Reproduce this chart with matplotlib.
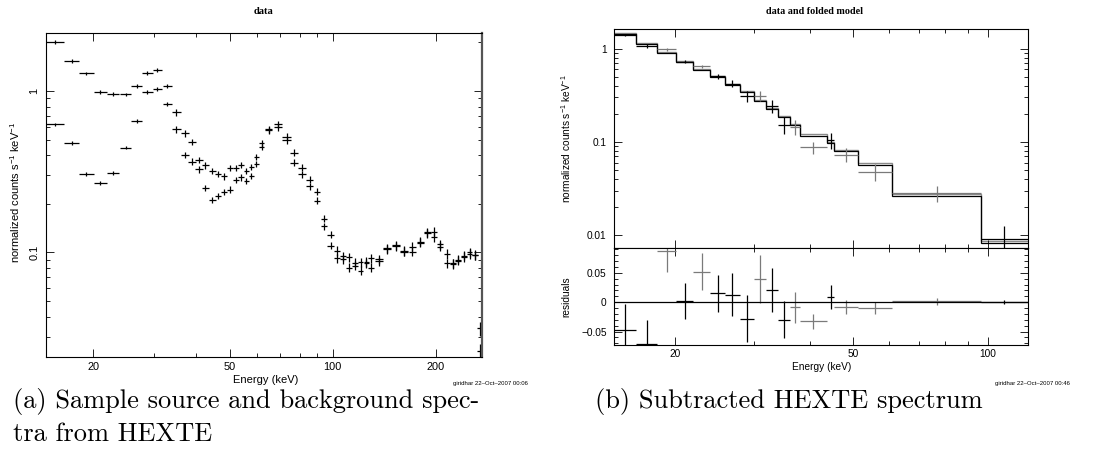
import numpy as np
import matplotlib
matplotlib.use('Agg')
import matplotlib.pyplot as plt
from matplotlib.ticker import FixedLocator, FixedFormatter, NullFormatter

plt.rcParams['font.family'] = ['Liberation Sans', 'DejaVu Sans']
plt.rcParams['mathtext.default'] = 'regular'

# ---------------- Panel (a): source and background spectra ----------------
energy_a = [15.5, 17.3, 19.1, 21.0, 22.9, 24.9, 26.8, 28.8, 30.8, 32.9,
            35.0, 37.0, 38.9, 40.7, 42.5, 44.5, 46.3, 48.2, 50.2, 52.2,
            54.0, 56.0, 57.9, 59.9, 62.0, 65.1, 69.3, 73.3, 77.0, 81.4,
            85.7, 90.0, 94.3, 98.6, 102.9, 107.1, 111.5, 116.1, 120.6, 125.3,
            129.3, 136.4, 143.9, 153.3, 161.7, 170.7, 180.1, 188.8, 197.3, 206.0,
            215.4, 224.2, 232.5, 241.4, 250.8, 260.0, 268.3]
xerr_a = [0.9, 0.9, 0.95, 0.95, 0.95, 0.95, 1.0, 1.0, 1.0, 1.0,
          1.0, 1.0, 1.0, 1.0, 1.0, 1.0, 1.0, 1.0, 1.0, 1.0,
          1.0, 1.0, 1.0, 1.0, 1.0, 1.6, 2.0, 2.0, 2.0, 2.1,
          2.1, 2.1, 2.1, 2.1, 2.1, 2.1, 2.2, 2.2, 2.2, 2.2,
          2.2, 3.6, 4.0, 4.3, 4.3, 4.3, 4.3, 4.3, 4.3, 4.3,
          4.4, 4.4, 4.4, 4.4, 4.5, 4.5, 4.5]
source_a = [2.02, 1.535, 1.285, 0.99, 0.958, 0.953, 1.074, 1.29, 1.35, 1.074,
            0.737, 0.546, 0.485, 0.374, 0.346, 0.319, 0.306, 0.296, 0.333, 0.335,
            0.35, 0.321, 0.339, 0.391, 0.474, 0.58, 0.624, 0.521, 0.416, 0.336,
            0.282, 0.238, 0.162, 0.1285, 0.1023, 0.0945, 0.0934, 0.0865, 0.0867, 0.0874,
            0.092, 0.091, 0.1062, 0.111, 0.1023, 0.1086, 0.1167, 0.1335, 0.1346, 0.1126,
            0.098, 0.0856, 0.0904, 0.0957, 0.1, 0.0967, 0.0339]
background_a = [0.621, 0.48, 0.306, 0.268, 0.31, 0.447, 0.654, 0.99, 1.035, 0.834,
                0.578, 0.402, 0.366, 0.327, 0.2515, 0.211, 0.2245, 0.238, 0.2455, 0.281,
                0.292, 0.278, 0.297, 0.353, 0.452, 0.572, 0.598, 0.497, 0.36, 0.306,
                0.258, 0.209, 0.146, 0.110, 0.092, 0.091, 0.0805, 0.0829, 0.0772, 0.086,
                0.0805, 0.088, 0.105, 0.109, 0.101, 0.101, 0.115, 0.132, 0.124, 0.1086,
                0.0856, 0.085, 0.089, 0.094, 0.098, 0.096, 0.0246]
yerr_frac_a = [0.028, 0.028, 0.028, 0.028, 0.028, 0.028, 0.028, 0.028, 0.028, 0.028,
               0.045, 0.045, 0.045, 0.045, 0.045, 0.045, 0.045, 0.045, 0.045, 0.045,
               0.045, 0.045, 0.045, 0.045, 0.045, 0.05, 0.05, 0.05, 0.05, 0.05,
               0.05, 0.05, 0.05, 0.05, 0.065, 0.065, 0.065, 0.065, 0.065, 0.065,
               0.065, 0.065, 0.065, 0.065, 0.065, 0.065, 0.065, 0.065, 0.065, 0.065,
               0.065, 0.065, 0.065, 0.065, 0.065, 0.065, 0.1]

# ---------------- Panel (b): subtracted spectrum, folded model ----------------
bin_edges_b = [14.6, 16.4, 18.3, 20.1, 22.0, 24.0, 25.9, 27.9, 30.0, 32.0,
               34.0, 36.1, 38.0, 43.7, 45.4, 51.3, 61.2, 96.5, 122.5]
model_b = [1.45, 1.13, 0.899, 0.725, 0.595, 0.493, 0.41, 0.34, 0.276, 0.225,
           0.183, 0.152, 0.117, 0.0967, 0.0802, 0.0571, 0.0262, 0.00824]
model2_b = [1.47, 1.15, 0.915, 0.74, 0.605, 0.505, 0.42, 0.35, 0.283, 0.23,
            0.188, 0.156, 0.12, 0.099, 0.082, 0.059, 0.0276, 0.0087]
data_b = [1.41, 1.07, 0.987, 0.727, 0.645, 0.505, 0.42, 0.31, 0.314, 0.242,
          0.153, 0.145, 0.0871, 0.105, 0.0727, 0.0476, 0.0282, 0.0091]
resid_b = [-0.0478, -0.0705, 0.0876, 0.0023, 0.0518, 0.0148, 0.013, -0.0284, 0.0392, 0.0205,
           -0.0296, -0.009, -0.0324, 0.009, -0.008, -0.0097, 0.0017, 0.0003]
err_b = [0.044, 0.040, 0.036, 0.031, 0.031, 0.032, 0.036, 0.040, 0.041, 0.037,
         0.031, 0.027, 0.013, 0.021, 0.0125, 0.010, 0.0057, 0.0034]
grey_bins_b = [2, 4, 8, 11, 12, 14, 15, 16]

W, H = 1094, 450
fig = plt.figure(figsize=(W / 100, H / 100), dpi=100)


def rect(x0, y0, x1, y1):
    return [x0 / W, 1 - y1 / H, (x1 - x0) / W, (y1 - y0) / H]


def px(x, y):
    return x / W, 1 - y / H


def style(ax, lsize):
    ax.tick_params(which='both', direction='in', top=True, right=True,
                   width=0.6, color='k', labelsize=lsize)
    ax.tick_params(which='major', length=6)
    ax.tick_params(which='minor', length=3)
    for s in ax.spines.values():
        s.set_linewidth(0.8)


# ---- Left panel ----
axA = fig.add_axes(rect(46.3, 33.3, 481.7, 356.7))
axA.set_xscale('log')
axA.set_yscale('log')
axA.set_xlim(14.6, 272)
axA.set_ylim(0.0226, 2.28)
E = np.array(energy_a)
for series in (source_a, background_a):
    v = np.array(series)
    axA.errorbar(E, v, xerr=xerr_a, yerr=v * np.array(yerr_frac_a), fmt='none',
                 ecolor='k', elinewidth=0.9, capsize=0)
style(axA, 7.9)
axA.xaxis.set_major_locator(FixedLocator([20, 50, 100, 200]))
axA.xaxis.set_major_formatter(FixedFormatter(['20', '50', '100', '200']))
axA.xaxis.set_minor_locator(FixedLocator([30, 40, 60, 70, 80, 90]))
axA.xaxis.set_minor_formatter(NullFormatter())
axA.yaxis.set_major_locator(FixedLocator([0.1, 1]))
axA.yaxis.set_major_formatter(FixedFormatter(['0.1', '1']))
axA.yaxis.set_minor_locator(FixedLocator([0.03, 0.04, 0.05, 0.06, 0.07, 0.08, 0.09,
                                          0.2, 0.3, 0.4, 0.5, 0.6, 0.7, 0.8, 0.9, 2]))
axA.yaxis.set_minor_formatter(NullFormatter())
axA.tick_params(axis='x', pad=4)
axA.tick_params(axis='y', labelrotation=90, pad=5)
for lbl in axA.get_yticklabels():
    lbl.set_va('center')
axA.spines['right'].set_linewidth(1.6)
axA.spines['right'].set_color('#555555')

# ---- Right panel: upper ----
axB = fig.add_axes(rect(613.5, 28.7, 1028, 248.3))
axR = fig.add_axes(rect(613.5, 248.3, 1028, 345.3), sharex=axB)
edges = np.array(bin_edges_b)
lo, hi = edges[:-1], edges[1:]
cen = np.sqrt(lo * hi)
axB.set_xscale('log')
axB.set_yscale('log')
axB.set_xlim(14.6, 122.8)
axB.set_ylim(0.0072, 1.64)
axB.stairs(model2_b, edges, baseline=None, color='#8a8a8a', lw=1.0)
axB.stairs(model_b, edges, baseline=None, color='k', lw=0.9)
for i in range(len(cen)):
    c = '#7a7a7a' if i in grey_bins_b else 'k'
    axB.errorbar([cen[i]], [data_b[i]], xerr=[[cen[i] - lo[i]], [hi[i] - cen[i]]],
                 yerr=[err_b[i]], fmt='none', ecolor=c, elinewidth=0.9, capsize=0)
    axR.errorbar([cen[i]], [resid_b[i]], xerr=[[cen[i] - lo[i]], [hi[i] - cen[i]]],
                 yerr=[err_b[i]], fmt='none', ecolor=c, elinewidth=0.9, capsize=0)
axR.axhline(0, color='k', lw=0.9)
axR.set_ylim(-0.0734, 0.0916)

style(axB, 7.3)
style(axR, 7.3)
axB.xaxis.set_major_locator(FixedLocator([20, 50, 100]))
axB.xaxis.set_major_formatter(FixedFormatter(['20', '50', '100']))
axB.xaxis.set_minor_locator(FixedLocator([30, 40, 60, 70, 80, 90]))
axB.xaxis.set_minor_formatter(NullFormatter())
axB.tick_params(axis='x', labelbottom=False)
axB.yaxis.set_major_locator(FixedLocator([0.01, 0.1, 1]))
axB.yaxis.set_major_formatter(FixedFormatter(['0.01', '0.1', '1']))
axB.yaxis.set_minor_locator(FixedLocator([0.02, 0.03, 0.04, 0.05, 0.06, 0.07, 0.08, 0.09,
                                          0.2, 0.3, 0.4, 0.5, 0.6, 0.7, 0.8, 0.9]))
axB.yaxis.set_minor_formatter(NullFormatter())
axB.tick_params(axis='y', pad=5)
axR.yaxis.set_major_locator(FixedLocator([-0.05, 0, 0.05]))
axR.yaxis.set_major_formatter(FixedFormatter(['\u22120.05', '0', '0.05']))
axR.yaxis.set_minor_locator(FixedLocator([-0.07, -0.06, -0.04, -0.03, -0.02, -0.01,
                                          0.01, 0.02, 0.03, 0.04, 0.06, 0.07, 0.08, 0.09]))
axR.yaxis.set_minor_formatter(NullFormatter())
axR.tick_params(axis='y', pad=5)
axR.tick_params(axis='x', pad=3)

# ---- Texts ----
ylab = 'normalized counts s$^{\u22121}$ keV$^{\u22121}$'
fig.text(*px(15, 192), ylab, rotation=90, ha='center', va='center', fontsize=8)
fig.text(*px(265.5, 380), 'Energy (keV)', ha='center', va='center', fontsize=8)
fig.text(*px(264, 11.7), 'data', ha='center', va='center', fontsize=7.6,
         fontfamily='Liberation Serif', fontweight='bold')
fig.text(*px(566, 138.5), ylab, rotation=90, ha='center', va='center', fontsize=7.3)
fig.text(*px(566, 297), 'residuals', rotation=90, ha='center', va='center', fontsize=7.3)
fig.text(*px(822, 366.7), 'Energy (keV)', ha='center', va='center', fontsize=7.3)
fig.text(*px(815, 12), 'data and folded model', ha='center', va='center', fontsize=7.3,
         fontfamily='Liberation Serif', fontweight='bold')

fig.text(*px(453, 384), 'giridhar 22\u2013Oct\u20132007 00:06', ha='left', va='center',
         fontsize=4.3)
fig.text(*px(995, 384), 'giridhar 22\u2013Oct\u20132007 00:46', ha='left', va='center',
         fontsize=4.3)

fig.text(*px(13, 408), '(a) Sample source and background spec-', ha='left',
         va='baseline', fontsize=19, fontfamily='cmr10')
fig.text(*px(13, 441), 'tra from HEXTE', ha='left', va='baseline', fontsize=19,
         fontfamily='cmr10')
fig.text(*px(595, 408), '(b) Subtracted HEXTE spectrum', ha='left', va='baseline',
         fontsize=19, fontfamily='cmr10')

fig.savefig('out.png', dpi=100)
